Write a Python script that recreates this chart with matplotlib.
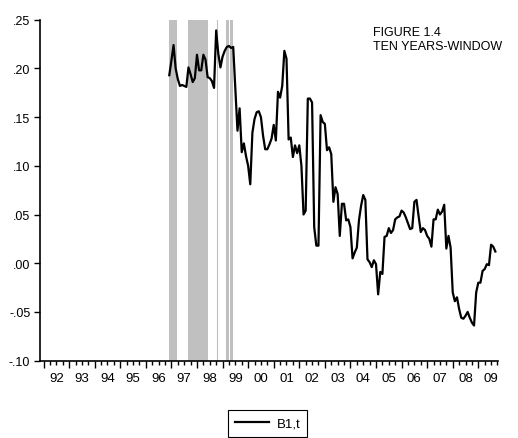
import matplotlib
matplotlib.use('Agg')
import matplotlib.pyplot as plt
import matplotlib.transforms as mtransforms
import pandas as pd

plt.rcParams['font.family'] = ['Liberation Sans', 'DejaVu Sans']

# ---------------- data ----------------
start_month = '1996-12'
b1_values = [
    0.193, 0.208, 0.224, 0.200, 0.189, 0.182, 0.183, 0.182, 0.181, 0.201,
    0.194, 0.186, 0.190, 0.214, 0.198, 0.198, 0.214, 0.209, 0.191, 0.190,
    0.187, 0.180, 0.239, 0.215, 0.201, 0.212, 0.218, 0.222, 0.223, 0.221,
    0.222, 0.180, 0.136, 0.159, 0.114, 0.123, 0.110, 0.100, 0.081,
    0.134, 0.148, 0.155, 0.156, 0.150, 0.131, 0.117, 0.117, 0.122, 0.128,
    0.142, 0.126, 0.176, 0.170, 0.182, 0.218, 0.210, 0.127, 0.129, 0.109,
    0.121, 0.113, 0.121, 0.100, 0.050, 0.054, 0.169, 0.169, 0.165, 0.037,
    0.018, 0.018, 0.152, 0.145, 0.143, 0.116, 0.119, 0.112, 0.063, 0.078,
    0.071, 0.028, 0.061, 0.061, 0.044, 0.045, 0.037, 0.005, 0.011, 0.016,
    0.044, 0.059, 0.070, 0.065, 0.004, 0.001, -0.004, 0.003, -0.001, -0.032,
    -0.009, -0.011, 0.027, 0.028, 0.036, 0.031, 0.034, 0.045, 0.047, 0.048,
    0.054, 0.052, 0.047, 0.041, 0.035, 0.036, 0.063, 0.065, 0.048, 0.032,
    0.036, 0.034, 0.028, 0.025, 0.017, 0.045, 0.045, 0.055, 0.050, 0.053,
    0.060, 0.015, 0.028, 0.016, -0.030, -0.039, -0.035, -0.047, -0.056, -0.057,
    -0.054, -0.050, -0.056, -0.061, -0.064, -0.030, -0.020, -0.020, -0.008, -0.006,
    -0.001, -0.002, 0.019, 0.017, 0.012,
]
series_label = 'B1,t'

# shaded periods (decimal years)
shade_periods = [(1996.917, 1997.20), (1997.667, 1998.417),
                 (1999.115, 1999.233), (1999.272, 1999.40)]
shade_lines = [1998.787]

years = list(range(1992, 2010))
year_labels = [f"{y % 100:02d}" for y in years]
y_ticks = [-0.10, -0.05, 0.00, 0.05, 0.10, 0.15, 0.20, 0.25]
y_labels = ['-.10', '-.05', '.00', '.05', '.10', '.15', '.20', '.25']
note_lines = ['FIGURE 1.4', 'TEN YEARS-WINDOW']

# ---------------- plot ----------------
dates = pd.date_range(start_month, periods=len(b1_values), freq='MS')
t = dates.year + (dates.month - 1) / 12.0

W, H = 518, 439
fig = plt.figure(figsize=(W / 100, H / 100), dpi=100)
ax = fig.add_axes([39.7 / W, 1 - 361.6 / H, (498 - 39.7) / W, (361.6 - 20.7) / H])

for a, b in shade_periods:
    ax.axvspan(a, b, color='#C0C0C0', lw=0, zorder=1)
for x in shade_lines:
    ax.axvline(x, color='#C0C0C0', lw=0.8, zorder=1)

ax.plot(t, b1_values, color='black', lw=1.6, label=series_label, zorder=3)

ax.set_xlim(1991.85, 2009.77)
ax.set_ylim(-0.10, 0.25)

for s in ['top', 'right']:
    ax.spines[s].set_visible(False)
for s in ['left', 'bottom']:
    ax.spines[s].set_linewidth(1.2)

ax.set_yticks(y_ticks)
ax.set_yticklabels(y_labels, fontsize=9)
ax.tick_params(axis='y', direction='out', length=4.3, width=1, pad=2.5)

ax.set_xticks(years)
ax.set_xticklabels([''] * len(years))
quarters = [y + q for y in years for q in (0.25, 0.5, 0.75)]
ax.set_xticks(quarters, minor=True)
ax.tick_params(axis='x', which='major', direction='out', length=5, width=1)
ax.tick_params(axis='x', which='minor', direction='out', length=3, width=1)

trans = mtransforms.blended_transform_factory(ax.transData, ax.transAxes)
for y, lab in zip(years, year_labels):
    ax.annotate(lab, xy=(y + 0.5, 0), xycoords=trans, xytext=(0, -12.7),
                textcoords='offset points', ha='center', va='center', fontsize=9.5)

fig.text(372.7 / W, 1 - 35.7 / H, note_lines[0], fontsize=9, va='baseline', ha='left')
fig.text(372.7 / W, 1 - 50.0 / H, note_lines[1], fontsize=9, va='baseline', ha='left')

leg = fig.legend(loc='center', bbox_to_anchor=(267.5 / W, 1 - 424.2 / H),
                 fontsize=9.5, frameon=True, fancybox=False, edgecolor='black',
                 framealpha=1, handlelength=2.6, handletextpad=0.55, borderpad=0.55)
leg.get_frame().set_linewidth(0.8)

fig.savefig('out.png', dpi=100)
